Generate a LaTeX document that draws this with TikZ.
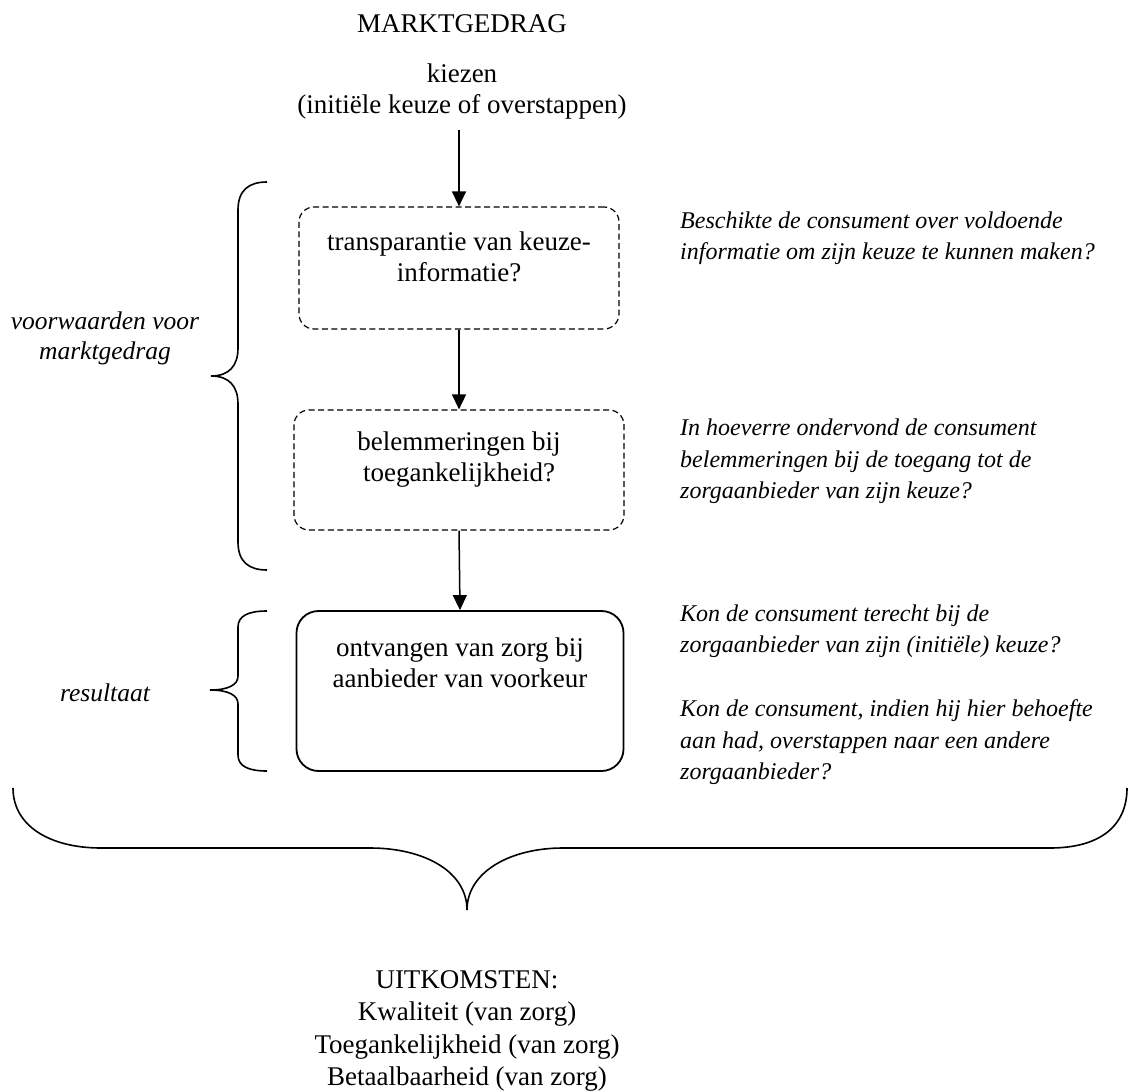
\documentclass[tikz,border=0pt]{standalone}
\usepackage{fontspec}
\setmainfont{Liberation Serif}
\usetikzlibrary{arrows.meta}
\begin{document}
\begin{tikzpicture}[x=1pt,y=-1pt,
  up/.style={font=\fontsize{27}{31}\selectfont, align=center, inner sep=0pt},
  upb/.style={font=\fontsize{27}{32.5}\selectfont, align=center, inner sep=0pt},
  itx/.style={font=\fontsize{24}{31.5}\selectfont\itshape, align=left, inner sep=0pt, anchor=west},
  itc/.style={font=\fontsize{25.5}{30}\selectfont\itshape, align=center, inner sep=0pt},
  dbox/.style={draw, dash pattern=on 6pt off 3.5pt, rounded corners=15pt, line width=1.2pt},
  sbox/.style={draw, rounded corners=22pt, line width=1.8pt},
  arr/.style={-{Triangle[length=15pt,width=14pt]}, line width=1.5pt},
  bracepath/.style={line width=1.6pt}
]
\useasboundingbox (0,0) rectangle (1135,1091);

% titles
\node[up] (title) at (462,24) {MARKTGEDRAG};
\node[up] (kiezen) at (462,92) {kiezen\\(initiële keuze of overstappen)};
\coordinate (a0) at (459,130);

% boxes
\node[dbox, minimum width=320pt, minimum height=122pt] (b1) at (459,268) {};
\node[up] (t1) at (459,257) {transparantie van keuze-\\informatie?};
\node[dbox, minimum width=330pt, minimum height=120pt] (b2) at (459,470) {};
\node[up] (t2) at (459,460) {belemmeringen bij\\toegankelijkheid?};
\node[sbox, minimum width=327pt, minimum height=160pt] (b3) at (460,691) {};
\node[up] (t3) at (460,663) {ontvangen van zorg bij\\aanbieder van voorkeur};

% arrows
\draw[arr] (a0) -- (b1.north);
\draw[arr] (b1.south) -- (b2.north);
\draw[arr] (b2.south) -- (b3.north);

% right-hand questions
\node[itx] (q1) at (680,238) {Beschikte de consument over voldoende\\informatie om zijn keuze te kunnen maken?};
\node[itx] (q2) at (680,461.5) {In hoeverre ondervond de consument\\belemmeringen bij de toegang tot de\\zorgaanbieder van zijn keuze?};
\node[itx] (q3) at (680,631) {Kon de consument terecht bij de\\zorgaanbieder van zijn (initiële) keuze?};
\node[itx] (q4) at (680,742.5) {Kon de consument, indien hij hier behoefte\\aan had, overstappen naar een andere\\zorgaanbieder?};

% left labels
\node[itc] (voorw) at (105,338) {voorwaarden voor\\marktgedrag};
\node[itc] (res) at (105,693) {resultaat};

% braces
\draw[bracepath] (267,182) .. controls (249,182) and (238,190) .. (238,210)
  -- (238,348) .. controls (238,366) and (229,376) .. (211,376)
  .. controls (229,376) and (238,386) .. (238,404)
  -- (238,542) .. controls (238,562) and (249,570) .. (267,570);
\draw[bracepath] (267,611) .. controls (248,611) and (238,616) .. (238,627)
  -- (238,676) .. controls (238,685) and (228,690) .. (210,690)
  .. controls (228,690) and (238,695) .. (238,704)
  -- (238,755) .. controls (238,766) and (248,771) .. (267,771);
\draw[bracepath] (13,788) .. controls (13,826) and (50,848) .. (101,848)
  -- (370,848) .. controls (425,848) and (467,872) .. (467,910)
  .. controls (467,872) and (510,848) .. (563,848)
  -- (1050,848) .. controls (1100,848) and (1127,826) .. (1127,788);

% outcomes
\node[upb] (uitk) at (467,1031) {UITKOMSTEN:\\Kwaliteit (van zorg)\\Toegankelijkheid (van zorg)\\Betaalbaarheid (van zorg)};
\end{tikzpicture}
\end{document}
